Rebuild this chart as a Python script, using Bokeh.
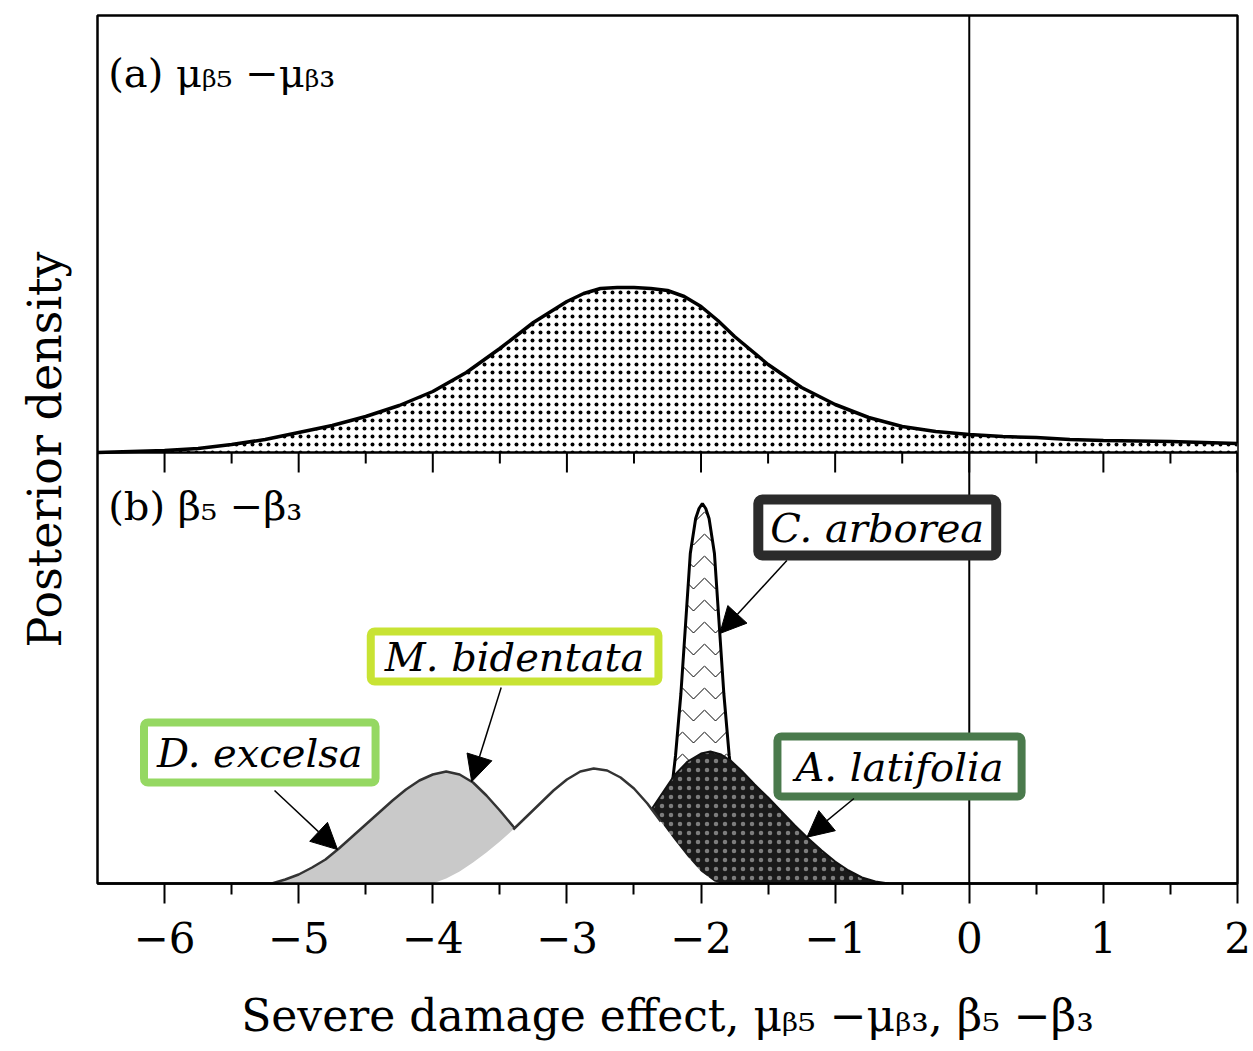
import numpy as np
from bokeh.plotting import figure
from bokeh.models import Range1d, Span, Label, Arrow, NormalHead, FixedTicker
from bokeh.embed import file_html
from bokeh.resources import INLINE

# ---------------- data ----------------
# panel (a): mu_b5 - mu_b3
a_x = [-6.5, -6.25, -6.0, -5.75, -5.5, -5.25, -5.0, -4.75, -4.5, -4.25,
       -4.0, -3.75, -3.5, -3.25, -3.0, -2.875, -2.75, -2.625, -2.5, -2.375,
       -2.25, -2.125, -2.0, -1.875, -1.75, -1.5, -1.25, -1.0, -0.75, -0.5,
       -0.25, 0.0, 0.25, 0.5, 0.75, 1.0, 1.25, 1.5, 1.75, 2.0]
a_y = [0.0, 0.01, 0.02, 0.04, 0.08, 0.13, 0.20, 0.27, 0.36, 0.47,
       0.61, 0.80, 1.04, 1.30, 1.51, 1.59, 1.64, 1.65, 1.65, 1.64,
       1.62, 1.56, 1.46, 1.32, 1.16, 0.88, 0.65, 0.48, 0.35, 0.26,
       0.21, 0.18, 0.16, 0.15, 0.13, 0.12, 0.115, 0.11, 0.10, 0.09]

# panel (b): b5 - b3, per species
ca_x = [-2.39, -2.29, -2.24, -2.19, -2.15, -2.11, -2.08, -2.04, -2.015, -1.99,
        -1.965, -1.94, -1.90, -1.87, -1.83, -1.79, -1.74, -1.69, -1.59]
ca_y = [0.04, 0.35, 0.70, 1.28, 1.90, 2.70, 3.30, 3.65, 3.75, 3.80,
        3.75, 3.65, 3.30, 2.70, 1.90, 1.28, 0.70, 0.35, 0.04]

al_x = [-3.0, -2.8, -2.6, -2.4, -2.3, -2.2, -2.1, -2.0, -1.93, -1.85, -1.78, -1.7,
        -1.6, -1.5, -1.4, -1.3, -1.2, -1.1, -1.0, -0.9, -0.8, -0.7, -0.6]
al_y = [0.0, 0.12, 0.35, 0.68, 0.88, 1.08, 1.22, 1.30, 1.32, 1.29, 1.23, 1.13,
        0.99, 0.86, 0.72, 0.58, 0.45, 0.33, 0.22, 0.13, 0.06, 0.02, 0.0]

dm_x = [-5.2, -5.1, -5.0, -4.9, -4.8, -4.7, -4.6, -4.5, -4.4, -4.3, -4.2, -4.1, -4.0,
        -3.9, -3.8, -3.7, -3.6, -3.5, -3.4, -3.3, -3.2, -3.1, -3.0, -2.9, -2.8]
dm_y = [0.0, 0.04, 0.09, 0.16, 0.24, 0.35, 0.47, 0.59, 0.71, 0.83, 0.94, 1.03, 1.09,
        1.12, 1.09, 1.01, 0.88, 0.73, 0.57, 0.42, 0.28, 0.17, 0.09, 0.04, 0.0]

ot_x = [-4.0, -3.9, -3.8, -3.7, -3.6, -3.5, -3.4, -3.3, -3.2, -3.1, -3.0, -2.9,
        -2.8, -2.7, -2.6, -2.5, -2.4, -2.3, -2.2, -2.1, -2.0, -1.9, -1.85]
ot_y = [0.0, 0.05, 0.12, 0.21, 0.31, 0.42, 0.54, 0.67, 0.80, 0.93, 1.04, 1.12,
        1.15, 1.13, 1.06, 0.95, 0.80, 0.62, 0.44, 0.27, 0.12, 0.02, 0.0]

major_ticks = [-6, -5, -4, -3, -2, -1, 0, 1, 2]
minor_ticks = [-5.5, -4.5, -3.5, -2.5, -1.5, -0.5, 0.5, 1.5]
tick_labels = ["\u22126", "\u22125", "\u22124", "\u22123", "\u22122", "\u22121", "0", "1", "2"]

species = ["C. arborea", "M. bidentata", "D. excelsa", "A. latifolia"]

# ---------------- figure ----------------
SERIF = "DejaVu Serif"
b_h = 4.31      # height of panel (b) in y units
t_h = 4.37      # height of panel (a)

p = figure(width=1253, height=1051, x_range=Range1d(-6.5, 2.0),
           y_range=Range1d(0, b_h + t_h), output_backend="svg",
           toolbar_location=None, min_border_left=97, min_border_right=16,
           min_border_top=15, min_border_bottom=168)
p.extra_y_ranges = {"top": Range1d(-b_h, t_h)}
p.grid.visible = False
p.outline_line_color = "black"
p.outline_line_width = 2.5
p.background_fill_color = "white"
p.border_fill_color = "white"

xa = p.xaxis[0]
xa.ticker = FixedTicker(ticks=major_ticks, minor_ticks=minor_ticks)
xa.major_label_overrides = {t: l for t, l in zip(major_ticks, tick_labels)}
xa.major_label_text_font = SERIF
xa.major_label_text_font_size = "42px"
xa.major_label_text_color = "black"
xa.major_label_standoff = 18
xa.major_tick_in = 0
xa.major_tick_out = 20
xa.minor_tick_in = 0
xa.minor_tick_out = 11
xa.major_tick_line_width = 2
xa.minor_tick_line_width = 2
xa.axis_line_width = 2.5
xa.axis_label = "Severe damage effect, \u03bc\u1d66\u2085 \u2212\u03bc\u1d66\u2083, \u03b2\u2085 \u2212\u03b2\u2083"
xa.axis_label_text_font = SERIF
xa.axis_label_text_font_style = "normal"
xa.axis_label_text_font_size = "44px"
xa.axis_label_text_color = "black"
xa.axis_label_standoff = 34

ya = p.yaxis[0]
ya.ticker = FixedTicker(ticks=[])
ya.axis_line_color = None
ya.major_tick_line_color = None
ya.minor_tick_line_color = None
ya.axis_label = "Posterior density"
ya.axis_label_text_font = SERIF
ya.axis_label_text_font_style = "normal"
ya.axis_label_text_font_size = "46px"
ya.axis_label_text_color = "black"
ya.axis_label_standoff = 26

# ---- panel (a)
p.varea(x=a_x, y1=0, y2=a_y, y_range_name="top", fill_color="white",
        hatch_pattern="dot", hatch_color="black", hatch_scale=8, hatch_weight=1)
p.line(a_x, a_y, y_range_name="top", line_color="black", line_width=3.5)

# ---- panel (b)
p.varea(x=ca_x, y1=0, y2=ca_y, fill_color="white", hatch_pattern="horizontal_wave",
        hatch_color="black", hatch_scale=22, hatch_weight=1)
p.line(ca_x, ca_y, line_color="black", line_width=3)

p.varea(x=al_x, y1=0, y2=al_y, fill_color="#1a1a1a", hatch_pattern="dot",
        hatch_color="#7d7d7d", hatch_scale=9, hatch_weight=1)
p.line(al_x, al_y, line_color="#111111", line_width=2)

p.varea(x=dm_x, y1=0, y2=dm_y, fill_color="#c9c9c9")
p.line(dm_x, dm_y, line_color="#333333", line_width=2.5)

p.varea(x=ot_x, y1=0, y2=ot_y, fill_color="white")
ot_xa = np.array(ot_x)
vis = (ot_xa >= -3.4) & (ot_xa <= -2.3)
p.line(ot_xa[vis], np.array(ot_y)[vis], line_color="#333333", line_width=2.5)

# separator between panels and its ticks
p.add_layout(Span(location=b_h, dimension="width", line_color="black", line_width=2.5))
p.segment(x0=major_ticks, y0=b_h, x1=major_ticks, y1=b_h - 0.2, line_color="black", line_width=2)
p.segment(x0=minor_ticks, y0=b_h, x1=minor_ticks, y1=b_h - 0.11, line_color="black", line_width=2)
p.add_layout(Span(location=0, dimension="height", line_color="black", line_width=2))

# panel titles
p.add_layout(Label(x=-6.42, y=b_h + 3.80, text="(a) \u03bc\u1d66\u2085 \u2212\u03bc\u1d66\u2083",
                   text_font=SERIF, text_font_size="40px", text_baseline="middle",
                   text_align="left", text_color="black"))
p.add_layout(Label(x=-6.42, y=3.78, text="(b) \u03b2\u2085 \u2212\u03b2\u2083",
                   text_font=SERIF, text_font_size="40px", text_baseline="middle",
                   text_align="left", text_color="black"))

# species boxes and arrows
box_pos = [(-0.686, 3.56), (-3.39, 2.27), (-5.29, 1.31), (-0.52, 1.17)]
box_col = ["#2b2b2b", "#c8e334", "#95d862", "#4a7a4c"]
box_pad = [dict(x=12, y=5), dict(x=14, y=2), dict(x=13, y=7), dict(x=18, y=7)]
box_w = [10, 8, 8, 8]
for name, (bx, by), col, pad, w in zip(species, box_pos, box_col, box_pad, box_w):
    p.add_layout(Label(x=bx, y=by, text=name, text_font=SERIF, text_font_style="italic",
                       text_font_size="40px", text_align="center", text_baseline="middle",
                       text_color="black", background_fill_color="white",
                       border_line_color=col, border_line_width=w, padding=pad,
                       border_radius=4))

tips = [(-1.86, ca_x, ca_y, -1.36, 3.23),
        (-3.71, dm_x, dm_y, -3.49, 1.96),
        (-4.71, dm_x, dm_y, -5.18, 0.93),
        (-1.21, al_x, al_y, -0.86, 0.85)]
for tx, cx, cy, sx, sy in tips:
    ty = float(np.interp(tx, cx, cy))
    p.add_layout(Arrow(end=NormalHead(size=26, fill_color="black", line_color="black"),
                       x_start=sx, y_start=sy, x_end=tx, y_end=ty,
                       line_color="black", line_width=1.5))

open("out.html", "w").write(file_html(p, INLINE))
